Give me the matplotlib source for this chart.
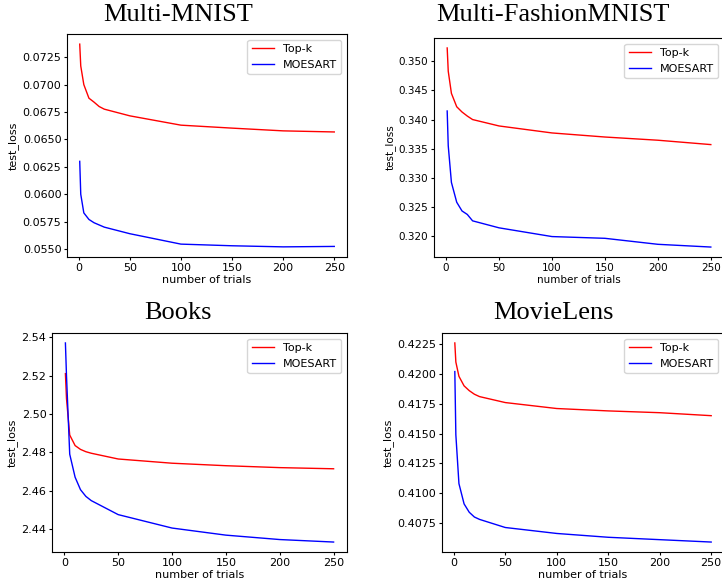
import matplotlib
matplotlib.use('Agg')
import matplotlib.pyplot as plt

trials = [1, 2, 5, 10, 15, 20, 25, 50, 100, 150, 200, 250]

titles = ['Multi-MNIST', 'Multi-FashionMNIST', 'Books', 'MovieLens']

topk = [
    [0.07369, 0.0717, 0.0700, 0.06876, 0.0684, 0.0680, 0.06776, 0.06715, 0.06630, 0.06603, 0.06578, 0.06568],
    [0.3523, 0.3483, 0.3445, 0.3422, 0.3413, 0.3406, 0.3400, 0.3389, 0.3377, 0.3370, 0.33645, 0.3357],
    [2.521, 2.508, 2.489, 2.4835, 2.4815, 2.4803, 2.4795, 2.4765, 2.4743, 2.4730, 2.4720, 2.4714],
    [0.4226, 0.4210, 0.4198, 0.4190, 0.4186, 0.4183, 0.4181, 0.4176, 0.4171, 0.4169, 0.41675, 0.4165],
]
moesart = [
    [0.0630, 0.0600, 0.0583, 0.0577, 0.0574, 0.0572, 0.0570, 0.0564, 0.05545, 0.0553, 0.05520, 0.05524],
    [0.34147, 0.3355, 0.3292, 0.3258, 0.3243, 0.3237, 0.3226, 0.3214, 0.3199, 0.3196, 0.31857, 0.3181],
    [2.537, 2.520, 2.479, 2.467, 2.4605, 2.457, 2.4548, 2.4475, 2.4405, 2.4368, 2.4345, 2.4332],
    [0.4202, 0.4149, 0.4108, 0.4091, 0.4084, 0.4080, 0.4078, 0.40712, 0.40662, 0.4063, 0.4061, 0.4059],
]

# each panel was a separate image in the original, so place axes by hand
W, H = 722, 582
boxes = [(67, 34, 347, 257), (434, 38, 724, 257), (52, 333, 347, 552), (442, 333, 724, 552)]
title_pos = [(178, 15), (553, 15), (178, 313), (553, 313)]
fsize = [8, 7.5, 8, 8]

fig = plt.figure(figsize=(W / 100, H / 100), dpi=100)

for i in range(4):
    l, t, r, b = boxes[i]
    ax = fig.add_axes([l / W, 1 - b / H, (r - l) / W, (b - t) / H])
    ax.plot(trials, topk[i], color='red', lw=1, label='Top-k')
    ax.plot(trials, moesart[i], color='blue', lw=1, label='MOESART')
    ax.set_xticks([0, 50, 100, 150, 200, 250])
    ax.tick_params(labelsize=fsize[i], length=2.5, pad=1.5)
    ax.set_xlabel('number of trials', fontsize=fsize[i], labelpad=2)
    ax.set_ylabel('test_loss', fontsize=fsize[i], labelpad=2.5)
    ax.legend(fontsize=8, loc='upper right')
    tx, ty = title_pos[i]
    fig.text(tx / W, 1 - ty / H, titles[i], ha='center', va='center',
             fontsize=19, family='Liberation Serif')

plt.savefig('out.png', dpi=100)
